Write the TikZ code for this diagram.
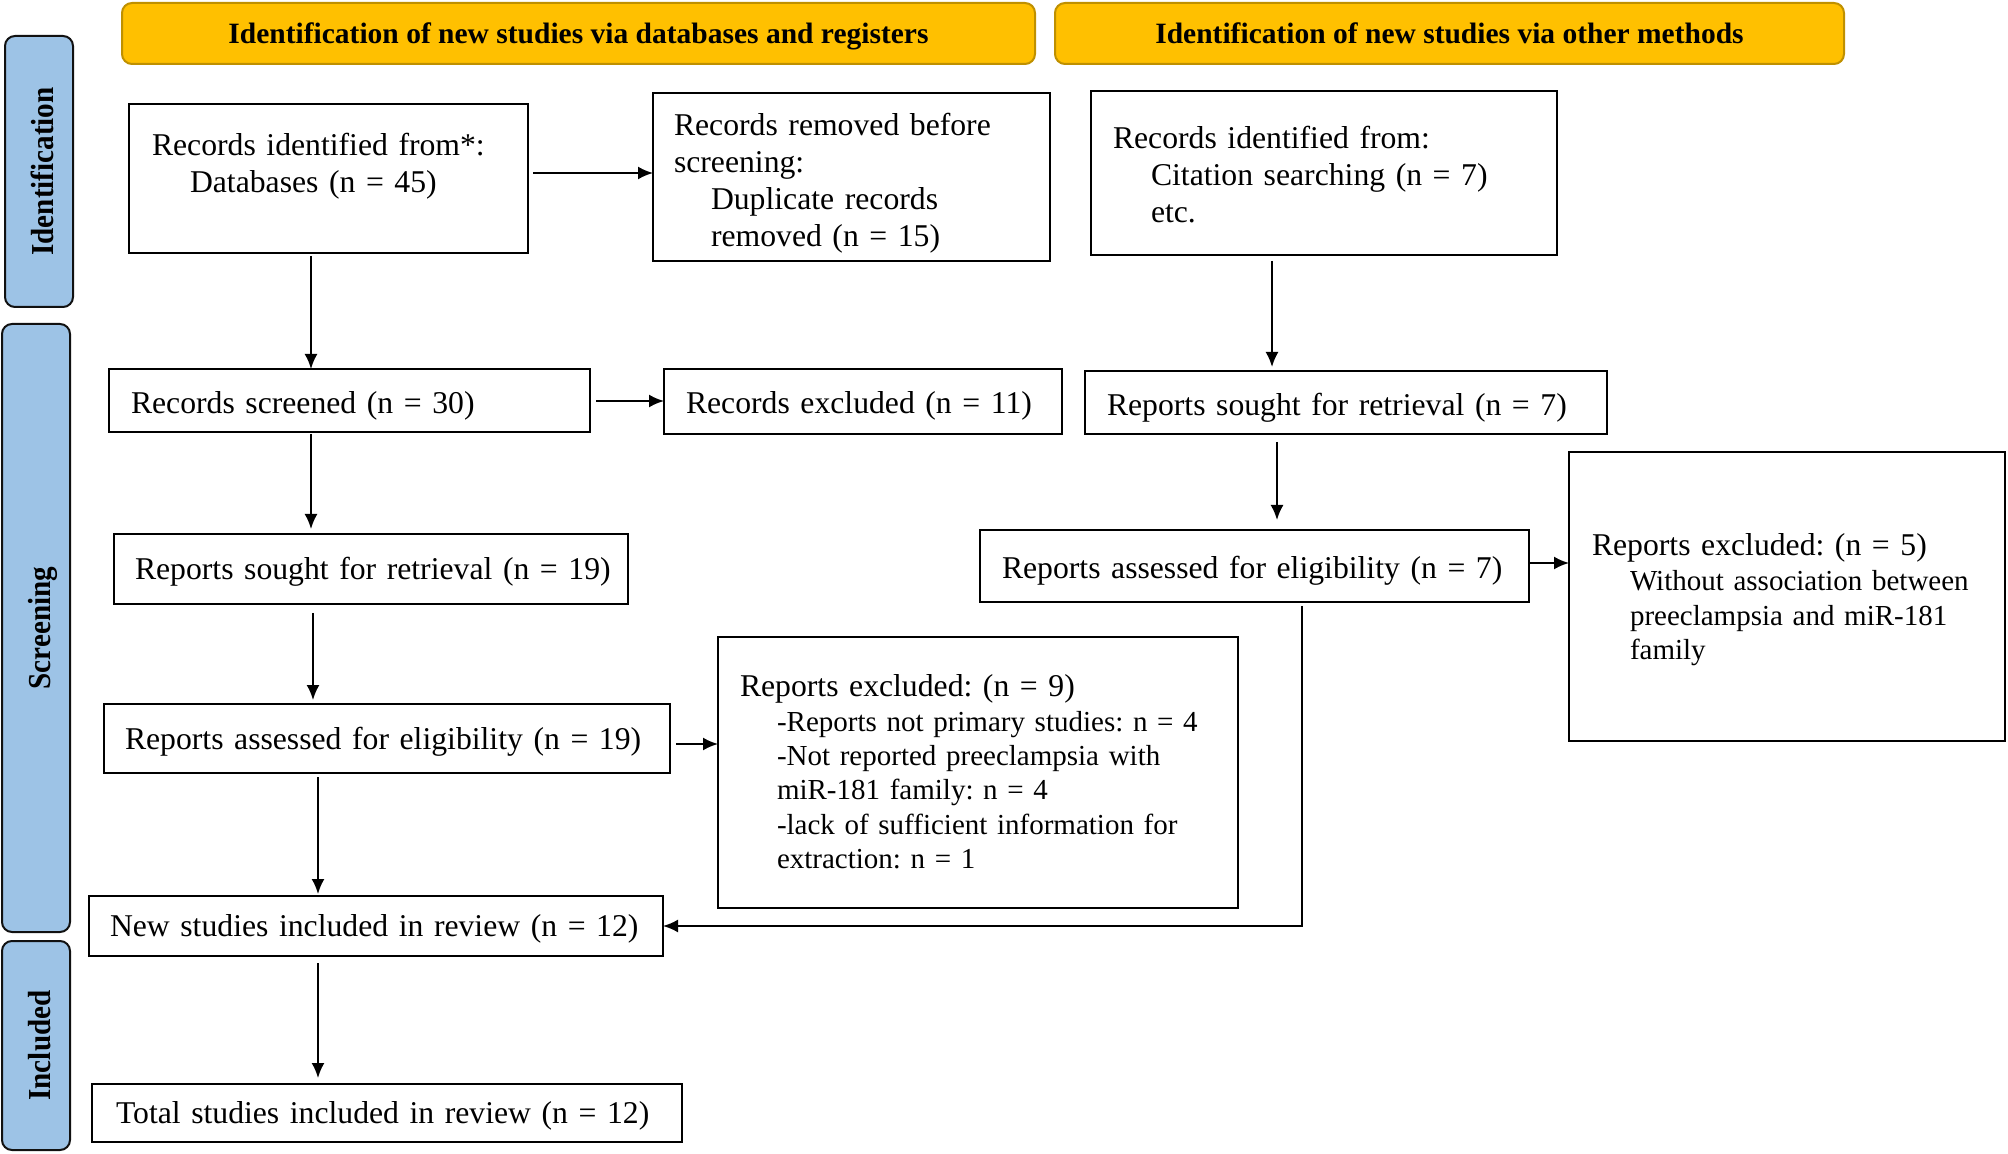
\documentclass[tikz,border=0pt]{standalone}
\usepackage{fontspec}
\setmainfont{Liberation Serif}
\newfontfamily\sidefont[FakeStretch=0.91]{Liberation Serif}
\usetikzlibrary{arrows.meta,calc}
\definecolor{hdrfill}{HTML}{FFC000}
\definecolor{hdrdraw}{HTML}{BF9000}
\definecolor{sidefill}{HTML}{9DC3E6}
\definecolor{sidedraw}{HTML}{111111}
\newcommand\myspacing{\fontdimen2\font=0.2em\relax}
\frenchspacing
\begin{document}
\frenchspacing
\begin{tikzpicture}[x=0.5pt,y=-0.5pt,
  box/.style={draw, line width=1.3pt, inner sep=0, outer sep=0, anchor=north west},
  hdr/.style={draw=hdrdraw, fill=hdrfill, line width=1pt, rounded corners=5pt, inner sep=0,
    text height=12.5pt, text depth=2pt,
    font=\fontsize{14.75pt}{17pt}\selectfont\bfseries},
  side/.style={draw=sidedraw, fill=sidefill, line width=1pt, rounded corners=5pt, inner sep=0,
    rotate=90, text height=14.5pt, text depth=0pt, font=\fontsize{16pt}{18pt}\sidefont\bfseries},
  txt/.style={anchor=base west, inner sep=0, outer sep=0, align=left, text width=520pt,
    font=\fontsize{15.85pt}{18.5pt}\selectfont\myspacing},
  sub/.style={txt, font=\fontsize{14.5pt}{17.2pt}\selectfont\myspacing},
  arr/.style={line width=1pt, -{Latex[length=7.5pt,width=6.5pt]}},
]
\useasboundingbox (0,0) rectangle (2008,1154);

% headers
\node[hdr, minimum width=913*0.5pt, minimum height=61*0.5pt] (h1) at (578.5,33.5)
  {Identification of new studies via databases and registers};
\node[hdr, minimum width=789*0.5pt, minimum height=61*0.5pt] (h2) at (1449.5,33.5)
  {Identification of new studies via other methods};

% side labels
\node[side, minimum width=271*0.5pt, minimum height=68*0.5pt] (s1) at (39,171.5) {Identification};
\node[side, minimum width=608*0.5pt, minimum height=68*0.5pt] (s2) at (36,628) {Screening};
\node[side, minimum width=209*0.5pt, minimum height=68*0.5pt] (s3) at (36,1045.5) {Included};

% boxes
\node[box, minimum width=399*0.5pt, minimum height=149*0.5pt] (b1) at (129,104) {};
\node[box, minimum width=397*0.5pt, minimum height=168*0.5pt] (b2) at (653,93) {};
\node[box, minimum width=466*0.5pt, minimum height=164*0.5pt] (b3) at (1091,91) {};
\node[box, minimum width=481*0.5pt, minimum height=63*0.5pt] (b4) at (109,369) {};
\node[box, minimum width=398*0.5pt, minimum height=65*0.5pt] (b5) at (664,369) {};
\node[box, minimum width=522*0.5pt, minimum height=63*0.5pt] (b6) at (1085,371) {};
\node[box, minimum width=514*0.5pt, minimum height=70*0.5pt] (b7) at (114,534) {};
\node[box, minimum width=549*0.5pt, minimum height=72*0.5pt] (b8) at (980,530) {};
\node[box, minimum width=436*0.5pt, minimum height=289*0.5pt] (b9) at (1569,452) {};
\node[box, minimum width=566*0.5pt, minimum height=69*0.5pt] (b10) at (104,704) {};
\node[box, minimum width=520*0.5pt, minimum height=271*0.5pt] (b11) at (718,637) {};
\node[box, minimum width=574*0.5pt, minimum height=60*0.5pt] (b12) at (89,896) {};
\node[box, minimum width=590*0.5pt, minimum height=58*0.5pt] (b13) at (92,1084) {};

% texts
\node[txt] (t1) at (152,155.5) {Records identified from*:\\\hspace*{19pt}Databases (n = 45)};
\node[txt] (t2) at (674,135.5) {Records removed before\\screening:\\\hspace*{18.5pt}Duplicate records\\\hspace*{18.5pt}removed (n = 15)};
\node[txt] (t3) at (1113,148.5) {Records identified from:\\\hspace*{19pt}Citation searching (n = 7)\\\hspace*{19pt}etc.};
\node[txt] (t4) at (131,413.5) {Records screened (n = 30)};
\node[txt] (t5) at (686,414) {Records excluded (n = 11)};
\node[txt] (t6) at (1107,415.5) {Reports sought for retrieval (n = 7)};
\node[txt] (t7) at (135,580) {Reports sought for retrieval (n = 19)};
\node[txt] (t8) at (1002,578.5) {Reports assessed for eligibility (n = 7)};
\node[txt] (t9) at (1592,556) {Reports excluded: (n = 5)};
\node[sub] (t9s) at (1630,591) {Without association between\\preeclampsia and miR-181\\family};
\node[txt] (t10) at (125,749) {Reports assessed for eligibility (n = 19)};
\node[txt] (t11) at (740,697) {Reports excluded: (n = 9)};
\node[sub] (t11s) at (777,731) {-Reports not primary studies: n = 4\\-Not reported preeclampsia with\\miR-181 family: n = 4\\-lack of sufficient information for\\extraction: n = 1};
\node[txt] (t12) at (110,936) {New studies included in review (n = 12)};
\node[txt] (t13) at (116,1123) {Total studies included in review (n = 12)};

% column / row guides
\coordinate (cA) at (311,0);
\coordinate (cB) at (313,0);
\coordinate (cC) at (318,0);
\coordinate (cD) at (1272,0);
\coordinate (cE) at (1277,0);
\coordinate (cF) at (1302,0);
\coordinate (rA) at (0,173);
\coordinate (rB) at (0,401);
\coordinate (rC) at (0,563);
\coordinate (rD) at (0,744);

% arrows
\draw[arr, shorten <=1.5pt] (b1.south -| cA) -- (b4.north -| cA);
\draw[arr, shorten <=2.5pt] (b1.east |- rA) -- (b2.west |- rA);
\draw[arr, shorten <=3pt] (b4.east |- rB) -- (b5.west |- rB);
\draw[arr, shorten <=1pt, shorten >=2.5pt] (b4.south -| cA) -- (b7.north -| cA);
\draw[arr, shorten <=3pt, shorten >=2pt] (b3.south -| cD) -- (b6.north -| cD);
\draw[arr, shorten <=4pt, shorten >=5pt] (b6.south -| cE) -- (b8.north -| cE);
\draw[arr, shorten <=0.5pt] (b8.east |- rC) -- (b9.west |- rC);
\draw[arr, shorten <=4.5pt, shorten >=2pt] (b7.south -| cB) -- (b10.north -| cB);
\draw[arr, shorten <=3pt] (b10.east |- rD) -- (b11.west |- rD);
\draw[arr, shorten <=2pt, shorten >=1pt] (b10.south -| cC) -- (b12.north -| cC);
\draw[arr, shorten <=3.5pt, shorten >=3pt] (b12.south -| cC) -- (b13.north -| cC);
\draw[arr, shorten <=2pt] (b8.south -| cF) |- (b12.east);
\end{tikzpicture}
\end{document}
